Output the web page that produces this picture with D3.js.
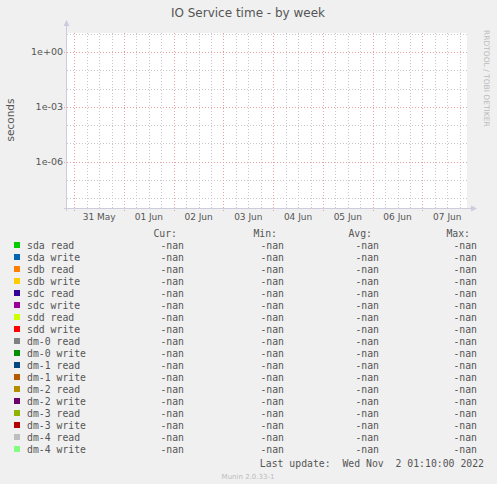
<!DOCTYPE html><html><head><meta charset="utf-8"><script src="https://cdn.jsdelivr.net/npm/d3@7"></script>
<style>body{margin:0;background:#f0f0f0}</style></head><body><svg id="c" width="497" height="484"></svg>
<script>
const seriesNames=["sda read","sda write","sdb read","sdb write","sdc read","sdc write","sdd read","sdd write","dm-0 read","dm-0 write","dm-1 read","dm-1 write","dm-2 read","dm-2 write","dm-3 read","dm-3 write","dm-4 read","dm-4 write"];
const seriesColors=["#00CC00","#0066B3","#FF8000","#FFCC00","#330099","#990099","#CCFF00","#FF0000","#808080","#008F00","#00487D","#B35A00","#B38F00","#6B006B","#8FB300","#B30000","#BEBEBE","#80FF80"];
const cur=seriesNames.map(()=>"-nan"),mn=cur,avg=cur,mx=cur;
const yTicks=[1,1e-3,1e-6];
const yLabels=["1e+00","1e-03","1e-06"];
const dayLabels=["31 May","01 Jun","02 Jun","03 Jun","04 Jun","05 Jun","06 Jun","07 Jun"];
const dayDates=[new Date(2022,4,31),new Date(2022,5,1),new Date(2022,5,2),new Date(2022,5,3),new Date(2022,5,4),new Date(2022,5,5),new Date(2022,5,6),new Date(2022,5,7)];
const svg=d3.select("#c");
const L=67,R=467,T=33,B=208;
const x=d3.scaleTime().domain([new Date(2022,4,30,20,30),new Date(2022,5,7,21,30)]).range([L,R]);
const y=d3.scaleLog().domain([Math.pow(10,-8.54),Math.pow(10,1.04)]).range([B,T]);
svg.append("rect").attr("x",L).attr("y",T).attr("width",R-L).attr("height",B-T).attr("fill","#fff");
const g=svg.append("g").attr("shape-rendering","crispEdges");
d3.timeHour.every(6).range(x.domain()[0],x.domain()[1]).forEach(d=>{
 if(d.getHours()===0)return;
 g.append("line").attr("x1",Math.round(x(d))+.5).attr("x2",Math.round(x(d))+.5).attr("y1",T).attr("y2",B).attr("stroke","#c8c8c8").attr("stroke-dasharray","1,2");});
for(let e=-8;e<=1;e++){ if(e%3===0)continue;
 const yy=Math.round(y(Math.pow(10,e)))+.5;
 g.append("line").attr("x1",L).attr("x2",R).attr("y1",yy).attr("y2",yy).attr("stroke","#c8c8c8").attr("stroke-dasharray","1,2");}
d3.timeDay.range(x.domain()[0],x.domain()[1]).forEach(d=>{
 g.append("line").attr("x1",Math.round(x(d))+.5).attr("x2",Math.round(x(d))+.5).attr("y1",T).attr("y2",B+3).attr("stroke","#e8a0a0").attr("stroke-dasharray","1,2");});
yTicks.forEach(v=>{const yy=Math.round(y(v))+.5;
 g.append("line").attr("x1",L-3).attr("x2",R).attr("y1",yy).attr("y2",yy).attr("stroke","#e8a0a0").attr("stroke-dasharray","1,2");});
g.append("line").attr("x1",L-0.5).attr("x2",L-0.5).attr("y1",B+3).attr("y2",T-8).attr("stroke","#ccd");
g.append("line").attr("x1",L-3).attr("x2",R+5).attr("y1",B+.5).attr("y2",B+.5).attr("stroke","#ccd");
svg.append("path").attr("d",`M${L-3.5},${T-7}L${L+2.5},${T-7}L${L-0.5},${T-13}Z`).attr("fill","#ccd");
svg.append("path").attr("d",`M${R+4},${B-2.5}L${R+4},${B+3.5}L${R+10},${B+.5}Z`).attr("fill","#ccd");
const tf="DejaVu Sans",mf="DejaVu Sans Mono";
yTicks.forEach((v,i)=>svg.append("text").attr("x",L-4).attr("y",y(v)+3.5).attr("text-anchor","end").attr("font-family",tf).attr("font-size",9.5).attr("fill","#555").text(yLabels[i]));
dayDates.forEach((d,i)=>svg.append("text").attr("x",x(d3.timeHour.offset(d,12))).attr("y",220).attr("text-anchor","middle").attr("font-family",tf).attr("font-size",9).attr("fill","#555").text(dayLabels[i]));
svg.append("text").attr("x",248).attr("y",17).attr("text-anchor","middle").attr("font-family",tf).attr("font-size",12).attr("fill","#555").text("IO Service time - by week");
svg.append("text").attr("transform","translate(14,120) rotate(-90)").attr("text-anchor","middle").attr("font-family",tf).attr("font-size",10.5).attr("fill","#555").text("seconds");
svg.append("text").attr("transform","translate(484,30) rotate(90)").attr("font-family",tf).attr("font-size",7.5).attr("fill","#bbb").text("RRDTOOL / TOBI OETIKER");
const cols=[184,284,379,477],heads=["Cur:","Min:","Avg:","Max:"];
const fs=9.8;
heads.forEach((h,i)=>svg.append("text").attr("x",cols[i]-7).attr("y",237).attr("text-anchor","end").attr("font-family",mf).attr("font-size",fs).attr("fill","#555").text(h));
seriesNames.forEach((n,i)=>{const yy=249+i*12;
 svg.append("rect").attr("x",14).attr("y",yy-7).attr("width",6).attr("height",6).attr("fill",seriesColors[i]);
 svg.append("text").attr("x",27).attr("y",yy).attr("font-family",mf).attr("font-size",fs).attr("fill","#555").text(n);
 [cur,mn,avg,mx].forEach((a,j)=>svg.append("text").attr("x",cols[j]).attr("y",yy).attr("text-anchor","end").attr("font-family",mf).attr("font-size",fs).attr("fill","#555").text(a[i]));});
svg.append("text").attr("x",484).attr("y",467).attr("text-anchor","end").attr("font-family",mf).attr("font-size",fs).attr("fill","#555").attr("xml:space","preserve").text("Last update:  Wed Nov  2 01:10:00 2022");
svg.append("text").attr("x",248).attr("y",479).attr("text-anchor","middle").attr("font-family",tf).attr("font-size",7).attr("fill","#bbb").text("Munin 2.0.33-1");
</script></body></html>
